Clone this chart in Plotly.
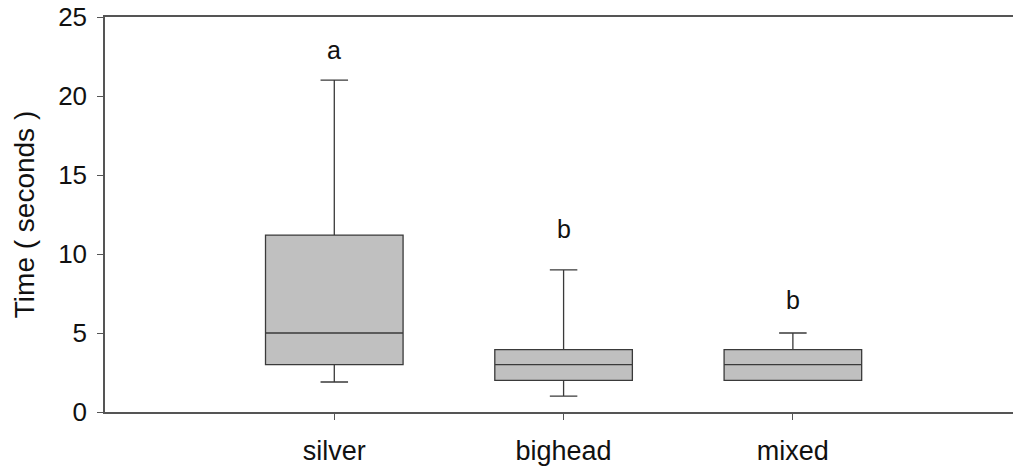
import plotly.graph_objects as go

categories = ["silver", "bighead", "mixed"]
lower_whisker = [1.9, 1.0, 2.0]
q1_vals = [3.0, 2.0, 2.0]
median_vals = [5.0, 3.0, 3.0]
q3_vals = [11.2, 3.95, 3.95]
upper_whisker = [21.0, 9.0, 5.0]
letters = ["a", "b", "b"]
letter_y = [22.9, 11.6, 7.1]

fig = go.Figure()
fig.add_trace(go.Box(
    x=categories,
    q1=q1_vals, median=median_vals, q3=q3_vals,
    lowerfence=lower_whisker, upperfence=upper_whisker,
    fillcolor="#c0c0c0",
    line=dict(color="#3a3a3a", width=1.3),
    width=0.6,
    whiskerwidth=0.2,
    boxpoints=False,
    hoverinfo="skip",
    showlegend=False,
))

for c, t, y in zip(categories, letters, letter_y):
    fig.add_annotation(x=c, y=y, text=t, showarrow=False,
                       font=dict(size=25, color="#111111", family="Liberation Sans"))

fig.update_layout(
    width=1013, height=470,
    margin=dict(l=105, r=0, t=17, b=58),
    plot_bgcolor="white", paper_bgcolor="white",
    font=dict(family="Liberation Sans", color="#111111"),
)
fig.update_xaxes(
    type="category", range=[-1.0, 2.96],
    showline=True, linecolor="#555555", linewidth=1.5, mirror=True,
    ticks="outside", ticklen=6, tickcolor="#555555",
    showgrid=False, zeroline=False,
    tickfont=dict(size=27),
    ticklabelstandoff=8,
    automargin=False,
)
fig.update_yaxes(
    range=[0, 25], tickvals=[0, 5, 10, 15, 20, 25],
    showline=True, linecolor="#555555", linewidth=1.5,
    ticks="outside", ticklen=6, tickcolor="#555555",
    showgrid=False, zeroline=False,
    tickfont=dict(size=26),
    ticklabelstandoff=5,
    ticklabeloverflow="allow",
    automargin=False,
    title=dict(text="Time ( seconds )", font=dict(size=28), standoff=15),
)

fig.write_html(
    "out.html",
    config={"displayModeBar": False},
    post_script="document.body.style.margin='0';document.body.style.overflow='hidden';",
)
